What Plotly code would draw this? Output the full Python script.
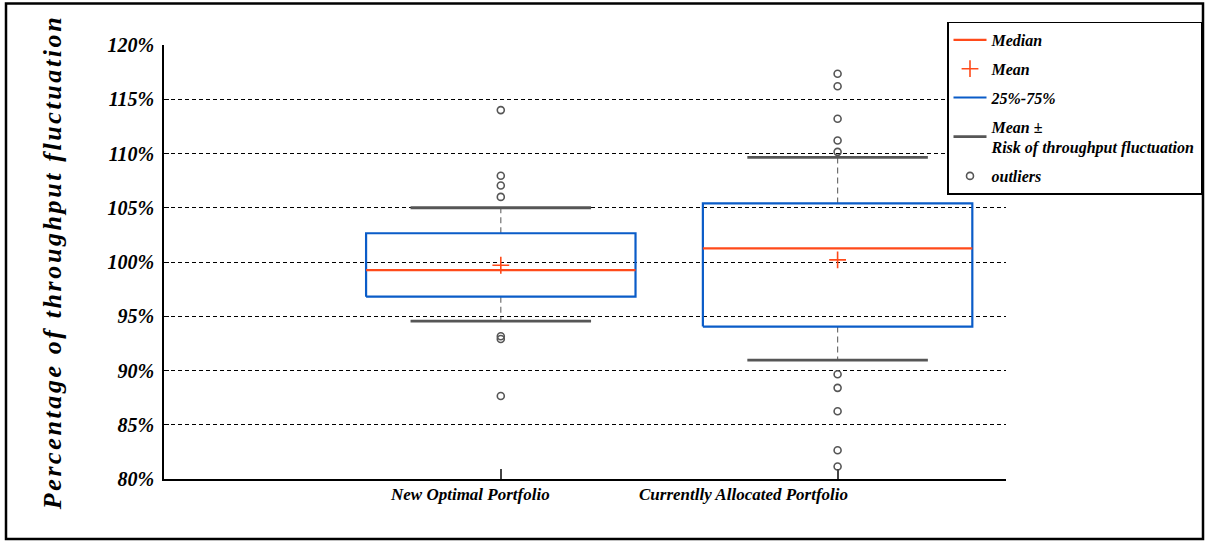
import plotly.graph_objects as go

# Portfolio groups and their summary statistics (throughput, % of plan)
categories = ["New Optimal Portfolio", "Currentlly Allocated Portfolio"]
q1 = [96.8, 94.05]
q3 = [102.65, 105.4]
median = [99.25, 101.25]
mean = [99.7, 100.2]
risk_low = [94.55, 90.95]    # mean - risk of throughput fluctuation
risk_high = [105.0, 109.65]  # mean + risk of throughput fluctuation
outliers = [
    [114.0, 107.95, 107.05, 106.0, 93.15, 92.9, 87.65],
    [117.35, 116.2, 113.2, 111.2, 110.15, 89.65, 88.4, 86.25, 82.65, 81.15],
]
y_ticks = [80, 85, 90, 95, 100, 105, 110, 115, 120]
y_tick_labels = [f"{v}%" for v in y_ticks]

# Page geometry (pixels)
W, H = 1205, 541
PLOT_L, PLOT_R, PLOT_T, PLOT_B = 164, 1006, 45, 479
PW, PH = PLOT_R - PLOT_L, PLOT_B - PLOT_T

def px_x(p):
    return (p - PLOT_L) / PW

def px_y(p):
    return (PLOT_B - p) / PH

FONT = "Liberation Serif"
RED = "#ff4a1a"
BLUE = "#0a5cc8"
GRAY = "#565656"

def serif(size):
    return dict(family=FONT, size=size, color="black", weight="bold", style="italic")

BOX_HALF = 0.4
CAP_HALF = 0.268
pos = [i + 1 for i in range(len(categories))]

box_x, box_y = [], []
med_x, med_y = [], []
cap_x, cap_y = [], []
wh_x, wh_y = [], []
out_x, out_y = [], []
for p, lo, hi, md, rl, rh, outs in zip(pos, q1, q3, median, risk_low, risk_high, outliers):
    box_x += [p - BOX_HALF, p + BOX_HALF, p + BOX_HALF, p - BOX_HALF, p - BOX_HALF, None]
    box_y += [lo, lo, hi, hi, lo, None]
    med_x += [p - BOX_HALF, p + BOX_HALF, None]
    med_y += [md, md, None]
    cap_x += [p - CAP_HALF, p + CAP_HALF, None, p - CAP_HALF, p + CAP_HALF, None]
    cap_y += [rh, rh, None, rl, rl, None]
    wh_x += [p, p, None, p, p, None]
    wh_y += [hi, rh, None, lo, rl, None]
    out_x += [p] * len(outs)
    out_y += outs

fig = go.Figure()

fig.add_trace(go.Scatter(
    x=wh_x, y=wh_y, mode="lines", showlegend=False, hoverinfo="skip",
    line=dict(color="#707070", width=1.2, dash="6px,4px"),
))
fig.add_trace(go.Scatter(
    x=box_x, y=box_y, mode="lines", name="25%-75%",
    legendgroup="c", legendrank=3,
    line=dict(color=BLUE, width=2.2),
))
fig.add_trace(go.Scatter(
    x=cap_x, y=cap_y, mode="lines", name="Mean \u00b1<br>Risk of throughput fluctuation",
    legendgroup="d", legendrank=4,
    line=dict(color=GRAY, width=2.8),
))
fig.add_trace(go.Scatter(
    x=med_x, y=med_y, mode="lines", name="Median",
    legendgroup="a", legendrank=1,
    line=dict(color=RED, width=2.2),
))
fig.add_trace(go.Scatter(
    x=pos, y=mean, mode="markers", name="Mean",
    legendgroup="b", legendrank=2,
    marker=dict(symbol="cross-thin", size=12, line=dict(color=RED, width=1.6)),
))
fig.add_trace(go.Scatter(
    x=out_x, y=out_y, mode="markers", name="outliers",
    legendgroup="e", legendrank=5,
    marker=dict(symbol="circle-open", size=7, color=GRAY, line=dict(color=GRAY, width=1.6)),
))

# Category labels under the axis
annotations = []
for p, name, shift in zip(pos, categories, [-31, -94]):
    annotations.append(dict(
        x=p, y=0, xref="x", yref="paper", yanchor="top", xanchor="center",
        xshift=shift, yshift=-4, showarrow=False, text=name, font=serif(17),
    ))

fig.update_layout(
    width=W, height=H,
    margin=dict(l=PLOT_L, r=W - PLOT_R, t=PLOT_T, b=H - PLOT_B, pad=0, autoexpand=False),
    paper_bgcolor="white", plot_bgcolor="white",
    font=dict(family=FONT, color="black"),
    xaxis=dict(
        range=[0, 2.5], tickvals=pos, showticklabels=False,
        ticks="inside", ticklen=10, tickwidth=1.5, tickcolor="#444",
        showgrid=False, zeroline=False, showline=True, linecolor="black", linewidth=1.5,
    ),
    yaxis=dict(
        range=[80, 120], tickvals=y_ticks, ticktext=y_tick_labels,
        ticks="inside", ticklen=5, tickwidth=1, tickcolor="black",
        ticklabelstandoff=4, tickfont=serif(20),
        showgrid=True, gridcolor="black", gridwidth=1, griddash="4px,3px",
        zeroline=False, showline=True, linecolor="black", linewidth=1.5,
        title=dict(text="Percentage of throughput fluctuation", standoff=38, font=serif(26)),
    ),
    legend=dict(
        x=px_x(947), y=px_y(21.5), xanchor="left", yanchor="top",
        bgcolor="white", bordercolor="black", borderwidth=1.5,
        font=serif(16), traceorder="grouped", tracegroupgap=5, itemwidth=33,
    ),
    annotations=annotations,
    shapes=[dict(
        type="rect", xref="paper", yref="paper",
        x0=px_x(6), x1=px_x(1203), y0=px_y(539), y1=px_y(3.5),
        line=dict(color="black", width=2.5), layer="above",
    )],
    showlegend=True,
)

fig.write_html(
    "out.html",
    post_script="var t=document.querySelector('.ytitle'); if(t){t.style.letterSpacing='2.6px';}",
)
